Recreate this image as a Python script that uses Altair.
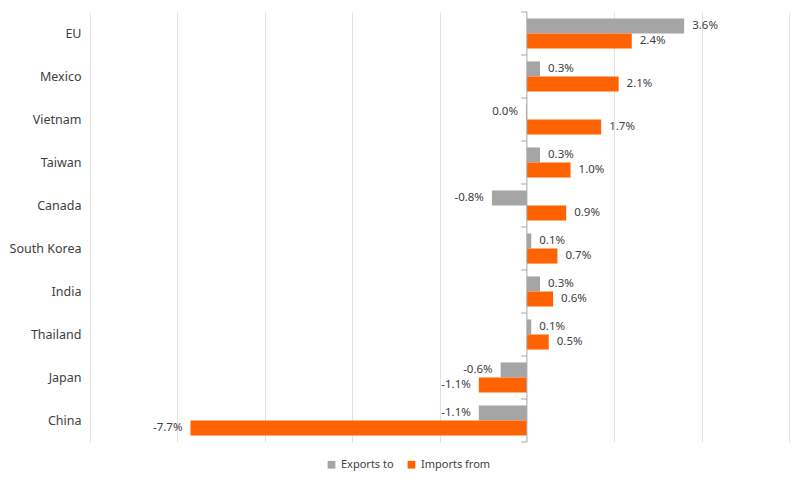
import altair as alt
import pandas as pd

countries = ["EU", "Mexico", "Vietnam", "Taiwan", "Canada", "South Korea",
             "India", "Thailand", "Japan", "China"]
exports_to = [3.6, 0.3, -0.02, 0.3, -0.8, 0.1, 0.3, 0.1, -0.6, -1.1]
imports_from = [2.4, 2.1, 1.7, 1.0, 0.9, 0.7, 0.6, 0.5, -1.1, -7.7]
series = ["Exports to", "Imports from"]
colors = ["#A5A5A5", "#FF6200"]
grid_values = [-10, -8, -6, -4, -2, 2, 4, 6]


def fmt(v):
    s = f"{v:.1f}%"
    return "0.0%" if s == "-0.0%" else s


rows = []
for c, e, i in zip(countries, exports_to, imports_from):
    rows.append({"country": c, "series": series[0], "v": e, "label": fmt(e)})
    rows.append({"country": c, "series": series[1], "v": i, "label": fmt(i)})
df = pd.DataFrame(rows)

FONT = "Noto Sans"

x_scale = alt.Scale(domain=[-10, 6], nice=False, zero=False)
y_enc = alt.Y("country:N", sort=countries,
              scale=alt.Scale(domain=countries, paddingInner=0.3, paddingOuter=0.15),
              axis=alt.Axis(title=None, domain=False, ticks=False, grid=False,
                            labelFont=FONT, labelFontSize=12.5, labelColor="#404040",
                            labelPadding=9))
yoff = alt.YOffset("series:N", sort=series, scale=alt.Scale(domain=series))

base = alt.Chart(df)

bars = base.mark_bar().encode(
    x=alt.X("v:Q", scale=x_scale,
            axis=alt.Axis(title=None, labels=False, ticks=False, domain=False,
                          values=grid_values, grid=True, gridColor="#E3E3E3",
                          gridWidth=1)),
    y=y_enc,
    yOffset=yoff,
    color=alt.Color("series:N", sort=series,
                    scale=alt.Scale(domain=series, range=colors),
                    legend=alt.Legend(title=None, orient="none", direction="horizontal",
                                      legendX=236, legendY=447, symbolType="square",
                                      symbolSize=60, labelFont=FONT, labelFontSize=11,
                                      labelColor="#404040", columnPadding=12,
                                      symbolStrokeWidth=0)),
)

text = base.mark_text(
    align=alt.expr("datum.v < 0 ? 'right' : 'left'"),
    dx=alt.expr("datum.v < 0 ? -8 : 8"),
    font=FONT, fontSize=11.5, color="#404040"
).encode(x=alt.X("v:Q", scale=x_scale), y=y_enc, yOffset=yoff, text="label:N")

zero_line = alt.Chart(pd.DataFrame({"z": [0]})).mark_rule(
    color="#A6A6A6", strokeWidth=1
).encode(x=alt.X("z:Q", scale=x_scale))

main = alt.layer(bars, zero_line, text)

tick_df = pd.DataFrame({"b": list(range(len(countries) + 1))})
ticks = alt.Chart(tick_df).mark_rule(color="#A6A6A6", strokeWidth=1).encode(
    x=alt.datum(-0.13, scale=x_scale),
    x2=alt.datum(0),
    y=alt.Y("b:Q", scale=alt.Scale(domain=[0, len(countries)], nice=False), axis=None),
)

chart = alt.layer(main, ticks).resolve_scale(
    y="independent"
).properties(
    width=699, height=430,
    autosize=alt.AutoSizeParams(type="none"),
    padding={"left": 82, "top": 4, "right": 3, "bottom": 34},
).configure_view(stroke=None)

chart.save("out.html", embed_options={"renderer": "svg", "actions": False})
